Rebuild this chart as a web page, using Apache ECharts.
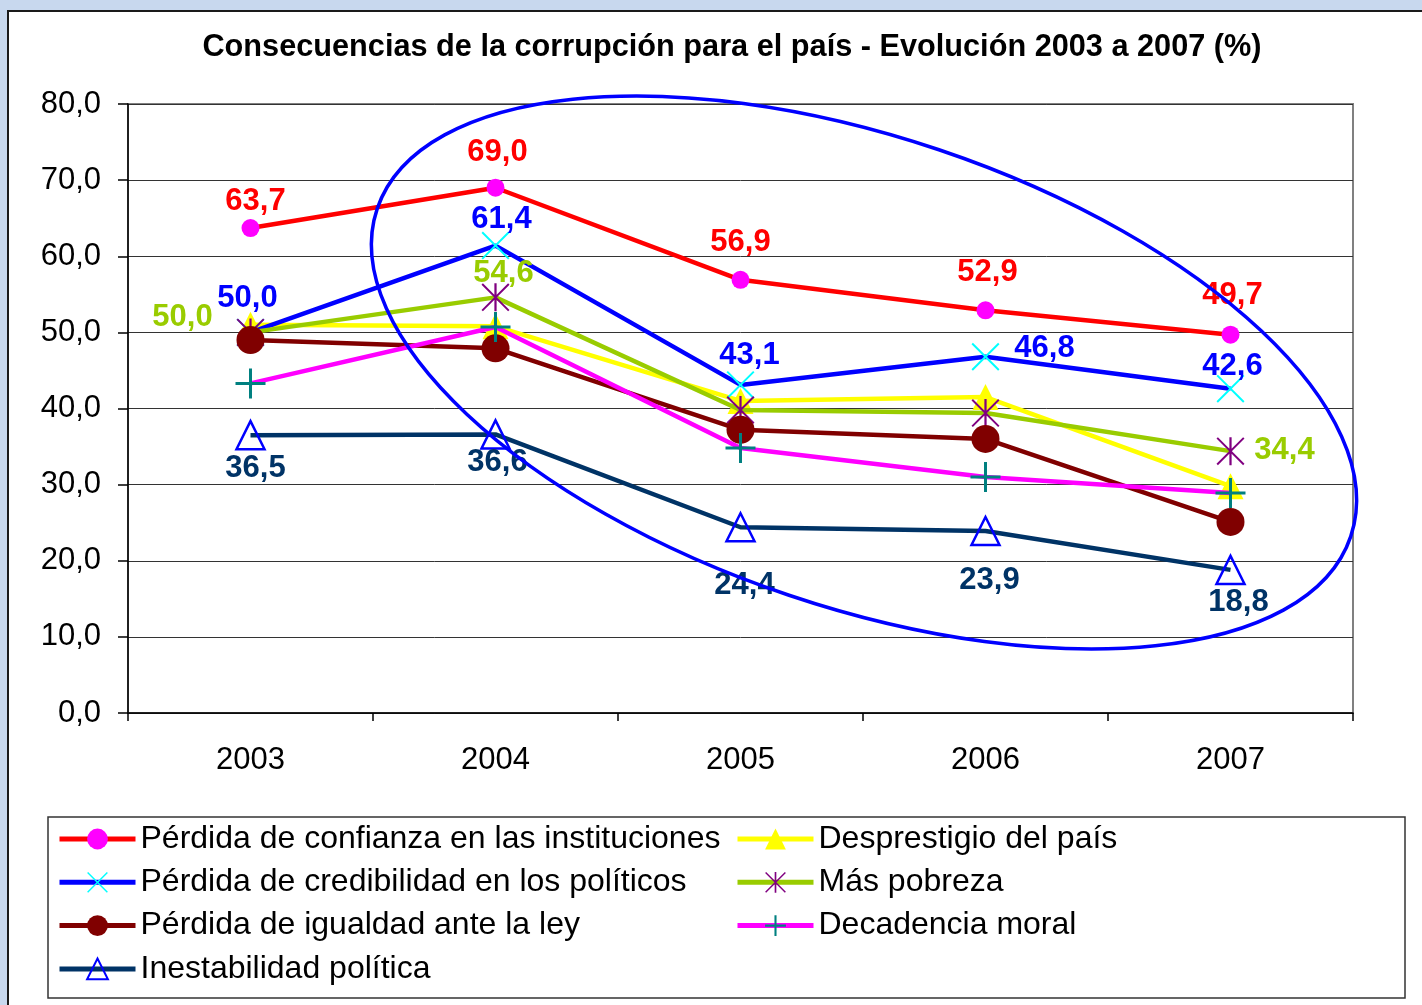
<!DOCTYPE html>
<html><head><meta charset="utf-8">
<script src="https://cdn.jsdelivr.net/npm/echarts@6/dist/echarts.min.js"></script>
<style>html,body{margin:0;padding:0;background:#c8d8ee;} #c{width:1422px;height:1005px;}</style>
</head><body><div id="c"></div>
<script>
const years = ['2003', '2004', '2005', '2006', '2007'];
const seriesNames = [
  'Pérdida de confianza en las instituciones',
  'Desprestigio del país',
  'Pérdida de credibilidad en los políticos',
  'Más pobreza',
  'Pérdida de igualdad ante la ley',
  'Decadencia moral',
  'Inestabilidad política'
];
const confianza     = [63.7, 69.0, 56.9, 52.9, 49.7];
const desprestigio  = [51.0, 50.8, 41.0, 41.5, 29.8];
const credibilidad  = [50.0, 61.4, 43.1, 46.8, 42.6];
const pobreza       = [50.0, 54.6, 39.8, 39.4, 34.4];
const igualdad      = [49.0, 47.9, 37.2, 36.0, 25.1];
const decadencia    = [43.3, 50.7, 34.8, 31.0, 28.9];
const inestabilidad = [36.5, 36.6, 24.4, 23.9, 18.8];

// label placement (offset of label centre from point), null = no label
const labConfianza = [[5,-27],[2,-35],[0,-37],[2,-38],[2,-39]];
const labCredib    = [[-3,-34],[6,-26],[9,-29],[59,-8],[2,-22]];
const labPobreza   = [[-68,-15],[8,-24],null,null,[54,-1]];
const labInest     = [[5,33],[2,28],[4,58],[4,49],[8,33]];
const none = [null,null,null,null,null];

const fmt = v => v.toFixed(1).replace('.', ',');
const FONT = 'Liberation Sans, Arial, sans-serif';

const X_PATH = 'path://M0,5 L5,0 L100,95 L95,100 Z M95,0 L100,5 L5,100 L0,95 Z';
const AST_PATH = 'path://M0,5 L5,0 L100,95 L95,100 Z M95,0 L100,5 L5,100 L0,95 Z M46,0 H54 V100 H46 Z';
const PLUS_PATH = 'path://M45,0 H55 V100 H45 Z M0,45 H100 V55 H0 Z';

function mk(name, values, labs, lineColor, labColor, symbol, size, itemStyle, z) {
  return {
    name, type: 'line', z: z,
    data: values.map((v, i) => labs[i] ? {
      value: v,
      label: { show: true, position: 'inside', offset: labs[i], formatter: p => fmt(p.value),
        color: labColor, fontSize: 31, fontWeight: 'bold', fontFamily: FONT, textBorderWidth: 0 }
    } : v),
    symbol, symbolSize: size, showAllSymbol: true,
    lineStyle: { color: lineColor, width: 4.5 },
    itemStyle: itemStyle,
    label: { show: false },
    emphasis: { disabled: true },
    animation: false
  };
}

const series = [
  mk(seriesNames[0], confianza, labConfianza, '#ff0000', '#ff0000', 'circle', 18, { color: '#ff00ff', borderWidth: 0 }, 2),
  mk(seriesNames[1], desprestigio, none, '#ffff00', '#ffff00', 'triangle', 26, { color: '#ffff00', borderWidth: 0 }, 3),
  mk(seriesNames[2], credibilidad, labCredib, '#0000ff', '#0000ff', X_PATH, 28, { color: '#00ffff', borderWidth: 0 }, 4),
  mk(seriesNames[3], pobreza, labPobreza, '#99cc00', '#99cc00', AST_PATH, 28, { color: '#800080', borderWidth: 0 }, 5),
  mk(seriesNames[4], igualdad, none, '#800000', '#800000', 'circle', 28, { color: '#800000', borderWidth: 0 }, 6),
  mk(seriesNames[5], decadencia, none, '#ff00ff', '#ff00ff', PLUS_PATH, 30, { color: '#008080', borderWidth: 0 }, 7),
  mk(seriesNames[6], inestabilidad, labInest, '#003366', '#003366', 'triangle', 28, { color: 'rgba(255,255,255,0)', borderColor: '#0000ff', borderWidth: 2.5 }, 8)
];

const chart = echarts.init(document.getElementById('c'), null, { renderer: 'canvas' });
const legendCommon = {
  orient: 'vertical', itemWidth: 76, itemHeight: 26, itemGap: 11.3, padding: 0,
  textStyle: { fontSize: 32, fontFamily: FONT, color: '#000', lineHeight: 30 },
  lineStyle: { width: 5 },
  selectedMode: false
};
chart.setOption({
  backgroundColor: 'transparent',
  animation: false,
  title: {
    text: 'Consecuencias de la corrupción para el país - Evolución 2003 a 2007 (%)',
    left: 727, top: 27, textAlign: 'center',
    textStyle: { fontSize: 30.7, fontWeight: 'bold', fontFamily: FONT, color: '#000' }
  },
  graphic: [
    { type: 'rect', z: -10, shape: { x: 8, y: 11, width: 1430, height: 1010 },
      style: { fill: '#ffffff', stroke: '#1a1a1a', lineWidth: 2 } },
    { type: 'rect', z: -5, shape: { x: 48, y: 817, width: 1357, height: 181 },
      style: { fill: '#ffffff', stroke: '#333333', lineWidth: 1.5 } },
    { type: 'ellipse', z: 100, x: 864, y: 372.5, rotation: -18.6 * Math.PI / 180,
      shape: { cx: 0, cy: 0, rx: 513.6, ry: 235 },
      style: { fill: 'none', stroke: '#0000ff', lineWidth: 3.5 } }
  ],
  grid: { left: 128, right: 69, top: 104, bottom: 292, show: true, borderColor: '#808080', borderWidth: 2, backgroundColor: 'transparent' },
  xAxis: {
    type: 'category', data: years, boundaryGap: true,
    axisLine: { show: true, lineStyle: { color: '#000', width: 1.5 } },
    axisTick: { show: true, length: 8, lineStyle: { color: '#000', width: 1.5 } },
    axisLabel: { fontSize: 31, fontFamily: FONT, color: '#000', margin: 32 },
    splitLine: { show: false }
  },
  yAxis: {
    type: 'value', min: 0, max: 80, interval: 10,
    axisLine: { show: true, lineStyle: { color: '#000', width: 1.5 } },
    axisTick: { show: true, length: 10, lineStyle: { color: '#000', width: 1.5 } },
    axisLabel: { fontSize: 31, fontFamily: FONT, color: '#000', margin: 27, formatter: v => fmt(v) },
    splitLine: { show: true, lineStyle: { color: '#333', width: 1 } }
  },
  legend: [
    Object.assign({}, legendCommon, { left: 57, top: 823, data: [seriesNames[0], seriesNames[2], seriesNames[4], seriesNames[6]] }),
    Object.assign({}, legendCommon, { left: 735, top: 823, data: [seriesNames[1], seriesNames[3], seriesNames[5]] })
  ],
  series: series
});
</script>
</body></html>
